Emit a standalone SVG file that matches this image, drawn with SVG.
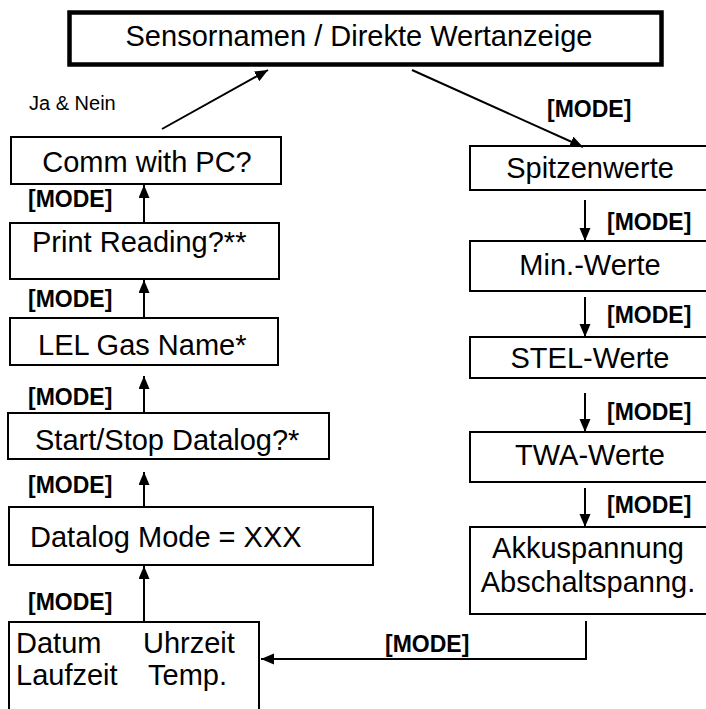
<svg xmlns="http://www.w3.org/2000/svg" width="706" height="709" viewBox="0 0 706 709">
  <style>
    .box { fill: #ffffff; stroke: #000000; stroke-width: 2; }
    .main { fill: #ffffff; stroke: #000000; stroke-width: 4.5; }
    .t { font-family: "Liberation Sans", Arial, sans-serif; font-size: 29px; fill: #000000; }
    .m { font-family: "Liberation Sans", Arial, sans-serif; font-size: 23px; font-weight: bold; fill: #000000; }
    .s { font-family: "Liberation Sans", Arial, sans-serif; font-size: 20px; fill: #000000; }
    .c { text-anchor: middle; }
    .wire { fill: none; stroke: #000000; stroke-width: 2; marker-end: url(#head); }
  </style>
  <defs>
    <marker id="head" markerUnits="userSpaceOnUse" markerWidth="14" markerHeight="12" refX="13" refY="5.5" orient="auto">
      <path d="M0,0 L13,5.5 L0,11 Z" fill="#000000"/>
    </marker>
  </defs>
  <rect width="706" height="709" fill="#ffffff"/>

  <!-- main display -->
  <g id="main-display">
    <rect class="main" x="69.5" y="12.5" width="592" height="52"/>
    <text class="t c" x="359" y="46">Sensornamen / Direkte Wertanzeige</text>
  </g>

  <!-- left column: setup screens -->
  <g id="comm-pc">
    <rect class="box" x="11" y="137" width="270" height="47"/>
    <text class="t c" x="147" y="172">Comm with PC?</text>
  </g>
  <g id="print-reading">
    <rect class="box" x="10" y="223" width="269" height="56"/>
    <text class="t" x="32" y="252">Print Reading?**</text>
  </g>
  <g id="lel-gas">
    <rect class="box" x="10" y="318" width="268" height="47"/>
    <text class="t" x="38" y="355">LEL Gas Name*</text>
  </g>
  <g id="start-stop">
    <rect class="box" x="8" y="413" width="321" height="46"/>
    <text class="t" x="35" y="450">Start/Stop Datalog?*</text>
  </g>
  <g id="datalog-mode">
    <rect class="box" x="9" y="507" width="364" height="58"/>
    <text class="t" x="30" y="547">Datalog Mode = XXX</text>
  </g>
  <g id="date-time">
    <rect class="box" x="9" y="622" width="250" height="100"/>
    <text class="t" y="653"><tspan x="16">Datum</tspan><tspan x="143">Uhrzeit</tspan></text>
    <text class="t" y="685"><tspan x="16">Laufzeit</tspan><tspan x="148">Temp.</tspan></text>
  </g>

  <!-- right column: reading screens -->
  <g id="peak">
    <rect class="box" x="470" y="146" width="240" height="44"/>
    <text class="t c" x="590" y="178">Spitzenwerte</text>
  </g>
  <g id="min">
    <rect class="box" x="470" y="241" width="240" height="50"/>
    <text class="t c" x="590" y="275">Min.-Werte</text>
  </g>
  <g id="stel">
    <rect class="box" x="470" y="337" width="240" height="41"/>
    <text class="t c" x="590" y="368">STEL-Werte</text>
  </g>
  <g id="twa">
    <rect class="box" x="470" y="432" width="240" height="50"/>
    <text class="t c" x="590" y="465">TWA-Werte</text>
  </g>
  <g id="battery">
    <rect class="box" x="470" y="527" width="240" height="87"/>
    <text class="t c" x="588" y="558">Akkuspannung</text>
    <text class="t c" x="588" y="592">Abschaltspanng.</text>
  </g>

  <!-- connectors -->
  <g id="connectors">
    <line class="wire" x1="162" y1="129" x2="268" y2="70"/>
    <line class="wire" x1="412" y1="70" x2="583" y2="147"/>

    <line class="wire" x1="144" y1="222" x2="144" y2="185"/>
    <line class="wire" x1="144" y1="318" x2="144" y2="280"/>
    <line class="wire" x1="144" y1="413" x2="144" y2="376"/>
    <line class="wire" x1="144" y1="507" x2="144" y2="472"/>
    <line class="wire" x1="144" y1="622" x2="144" y2="566"/>

    <line class="wire" x1="585" y1="200" x2="585" y2="241"/>
    <line class="wire" x1="585" y1="297" x2="585" y2="337"/>
    <line class="wire" x1="585" y1="393" x2="585" y2="432"/>
    <line class="wire" x1="585" y1="488" x2="585" y2="527"/>

    <path class="wire" d="M586,621 V659 H261"/>
  </g>

  <!-- key labels -->
  <g id="labels">
    <text class="s" x="29" y="110">Ja &amp; Nein</text>
    <text class="m" x="547" y="117">[MODE]</text>
    <text class="m" x="28" y="207">[MODE]</text>
    <text class="m" x="28" y="307">[MODE]</text>
    <text class="m" x="28" y="405">[MODE]</text>
    <text class="m" x="28" y="493">[MODE]</text>
    <text class="m" x="28" y="610">[MODE]</text>
    <text class="m" x="607" y="230">[MODE]</text>
    <text class="m" x="607" y="323">[MODE]</text>
    <text class="m" x="607" y="420">[MODE]</text>
    <text class="m" x="607" y="513">[MODE]</text>
    <text class="m" x="385" y="652">[MODE]</text>
  </g>
</svg>
